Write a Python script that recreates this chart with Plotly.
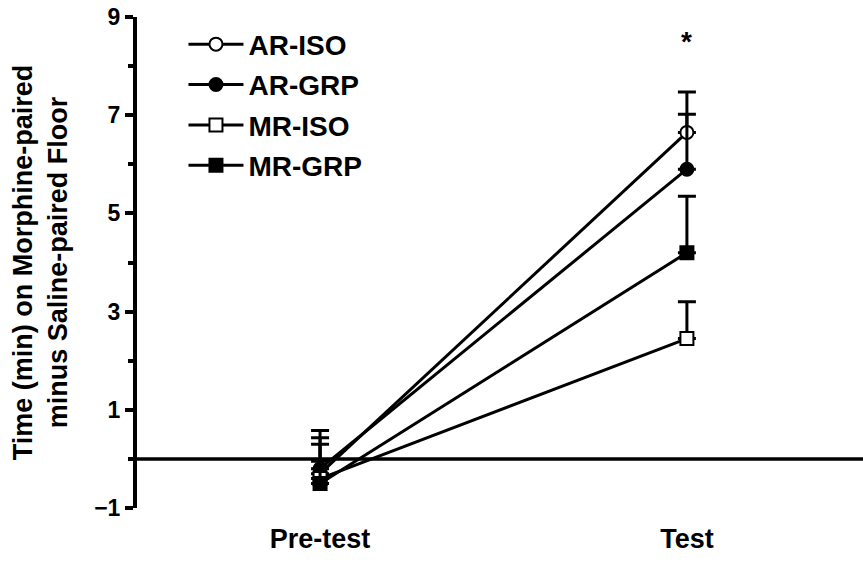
import plotly.graph_objects as go

phases = ["Pre-test", "Test"]
groups = ["AR-ISO", "AR-GRP", "MR-ISO", "MR-GRP"]
symbols = ["circle", "circle", "square", "square"]
filled = [False, True, False, True]
means = {
    "AR-ISO": [-0.30, 6.65],
    "AR-GRP": [-0.20, 5.90],
    "MR-ISO": [-0.40, 2.45],
    "MR-GRP": [-0.50, 4.20],
}
sem = {
    "AR-ISO": [0.88, 0.82],
    "AR-GRP": [0.50, 1.12],
    "MR-ISO": [0.83, 0.75],
    "MR-GRP": [0.45, 1.15],
}
y_ticks = [-1, 1, 3, 5, 7, 9]
x_pos = [0, 1]

FONT = "Arial, Liberation Sans, sans-serif"

fig = go.Figure()
for g, sym, f in zip(groups, symbols, filled):
    fig.add_trace(go.Scatter(
        x=x_pos, y=means[g], name=g, legendgroup=g, mode="lines+markers",
        line=dict(color="black", width=3),
        marker=dict(symbol=sym, size=13, color="black" if f else "white",
                    line=dict(color="black", width=2)),
        error_y=dict(type="data", symmetric=False, array=sem[g],
                     arrayminus=[0, 0], color="black", thickness=3, width=9),
        cliponaxis=False,
    ))

fig.add_shape(type="line", xref="paper", yref="y", x0=0, x1=1, y0=0, y1=0,
              line=dict(color="black", width=3.5))

fig.add_annotation(x=1, y=8.5, xref="x", yref="y", text="<b>*</b>",
                   showarrow=False, font=dict(family=FONT, size=28, color="black"))

fig.update_layout(
    width=863, height=573,
    margin=dict(l=137, r=0, t=17, b=65),
    paper_bgcolor="white", plot_bgcolor="white",
    font=dict(family=FONT, color="black", size=23),
    showlegend=True,
    legend=dict(x=0.064, y=0.995, xanchor="left", yanchor="top",
                bgcolor="rgba(0,0,0,0)", tracegroupgap=1, itemwidth=55,
                font=dict(family=FONT, size=28, color="black", weight="bold")),
    xaxis=dict(range=[-0.499, 1.48], tickvals=x_pos, ticktext=phases,
               showline=False, showgrid=False, zeroline=False, ticks="",
               ticklabelstandoff=12, automargin=False,
               tickfont=dict(family=FONT, size=27, weight="bold")),
    yaxis=dict(range=[-1, 9], tickvals=y_ticks, showgrid=False, zeroline=False,
               showline=True, linecolor="black", linewidth=4,
               ticks="outside", ticklen=8, tickwidth=3.5, tickcolor="black",
               minor=dict(tickvals=[0, 2, 4, 6, 8], ticks="outside", ticklen=5,
                          tickwidth=3.5, tickcolor="black"),
               automargin=False, ticklabeloverflow="allow",
               tickfont=dict(family=FONT, size=23, weight="bold"),
               title=dict(text="<b>Time (min) on Morphine-paired<br>minus Saline-paired Floor</b>",
                          font=dict(family=FONT, size=27), standoff=20)),
)

fig.write_html("out.html", config={"displayModeBar": False},
               post_script="document.body.style.margin='0';document.body.style.overflow='hidden';")
